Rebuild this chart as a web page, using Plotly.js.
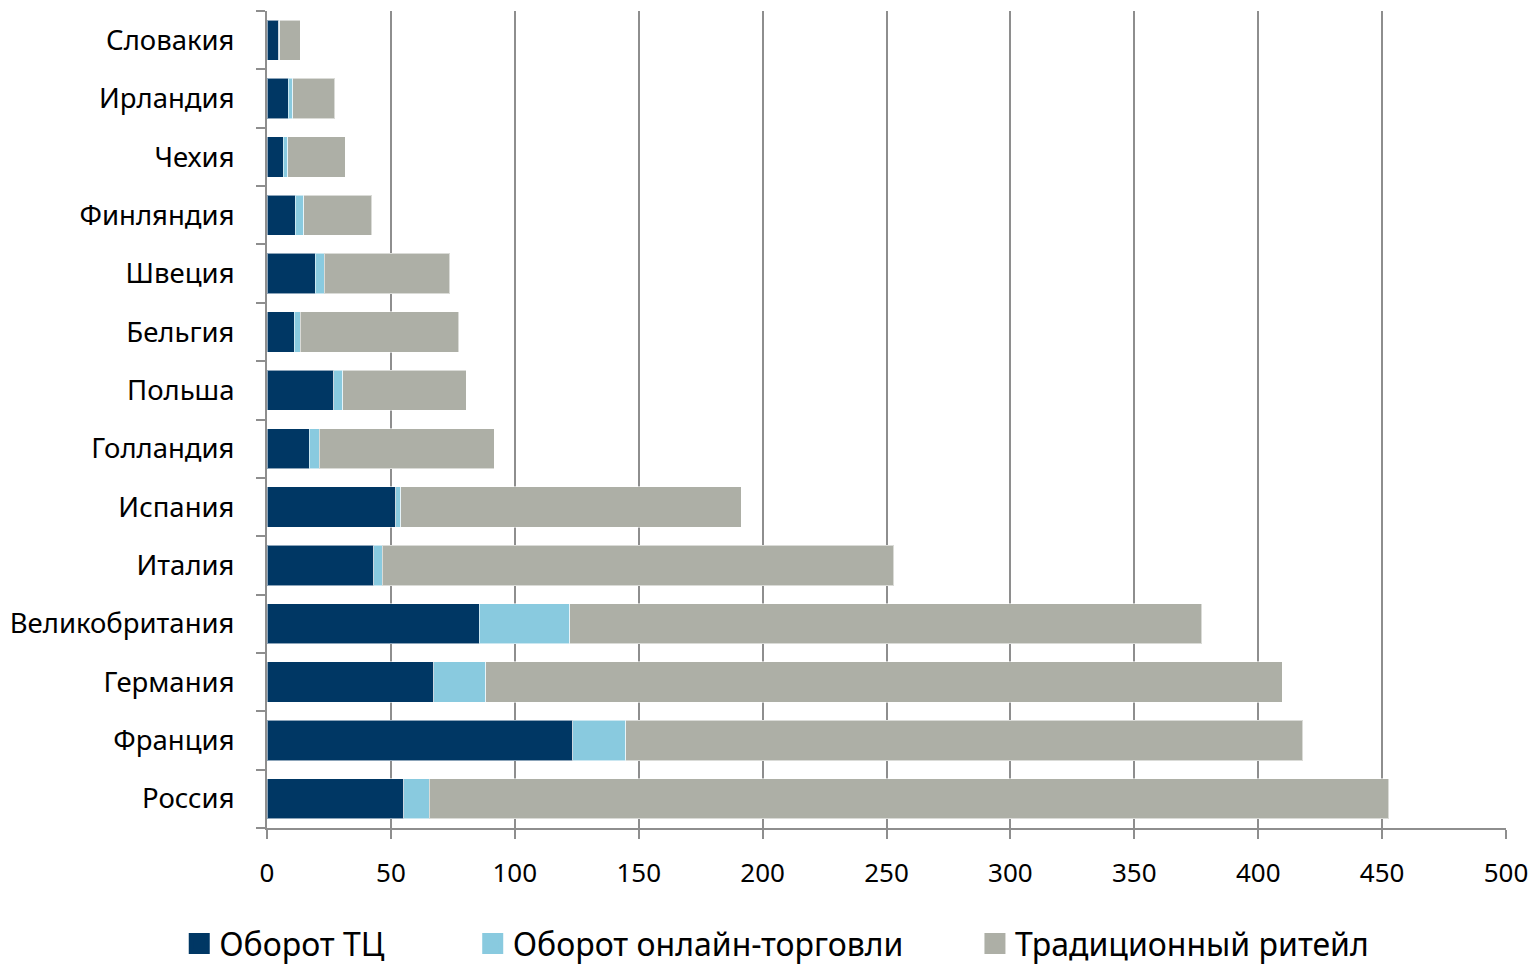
<!DOCTYPE html>
<html>
<head>
<meta charset="utf-8">
<script src="https://cdn.plot.ly/plotly-3.0.1.min.js"></script>
<style>
  html, body { margin: 0; padding: 0; background: #ffffff; }
  #chart { width: 1532px; height: 964px; }
</style>
</head>
<body>
<div id="chart"></div>
<script>
// Страны (снизу вверх)
const countries = ["Россия", "Франция", "Германия", "Великобритания", "Италия", "Испания",
  "Голландия", "Польша", "Бельгия", "Швеция", "Финляндия", "Чехия", "Ирландия", "Словакия"];

// Оборот торговых центров
const mallTurnover = [55.2, 123.4, 67.3, 85.6, 43.1, 52.0, 17.1, 27.0, 10.9, 19.4, 11.3, 6.5, 8.5, 4.8];
// Оборот онлайн-торговли
const onlineTurnover = [10.2, 21.4, 20.9, 36.6, 3.4, 1.9, 4.0, 3.6, 2.5, 3.7, 3.6, 1.8, 1.9, 0.4];
// Традиционный ритейл
const traditionalRetail = [387.3, 273.1, 321.6, 255.1, 206.5, 137.4, 70.6, 49.8, 64.0, 50.6, 27.4, 23.2, 17.0, 8.2];

const seriesNames = ["Оборот ТЦ", "Оборот онлайн-торговли", "Традиционный ритейл"];
const seriesColors = ["#003764", "#89cadf", "#adafa6"];
const seriesValues = [mallTurnover, onlineTurnover, traditionalRetail];

const xTicks = [0, 50, 100, 150, 200, 250, 300, 350, 400, 450, 500];

const FONT = "Noto Sans, Open Sans, sans-serif";
const NBSP = "\u00A0";
// extra spacing after each legend entry
const legendPad = [10, 8, 0];

const traces = [];
seriesValues.forEach((vals, i) => {
  traces.push({
    type: "bar",
    orientation: "h",
    y: countries,
    x: vals,
    name: seriesNames[i],
    showlegend: false,
    marker: { color: seriesColors[i], line: { color: "rgba(255,255,255,0.55)", width: 1 } },
    hoverinfo: "x+y+name"
  });
});
// Legend entries with larger square swatches
seriesValues.forEach((vals, i) => {
  traces.push({
    type: "scatter",
    mode: "markers",
    x: [null],
    y: [null],
    name: seriesNames[i] + NBSP.repeat(legendPad[i]),
    marker: { symbol: "square", size: 16, color: seriesColors[i], line: { color: seriesColors[i], width: 5 } },
    hoverinfo: "skip"
  });
});

const layout = {
  width: 1532,
  height: 964,
  margin: { l: 267, r: 26, t: 11, b: 136 },
  paper_bgcolor: "#ffffff",
  plot_bgcolor: "#ffffff",
  barmode: "stack",
  bargap: 0.31,
  font: { family: FONT, size: 26, color: "#000000" },
  showlegend: true,
  legend: {
    orientation: "h",
    xref: "container",
    yref: "container",
    x: 0.117,
    xanchor: "left",
    y: 0.021,
    yanchor: "middle",
    font: { family: FONT, size: 32, color: "#000000" },
    itemsizing: "trace",
    traceorder: "normal"
  },
  xaxis: {
    range: [0, 500],
    tickvals: xTicks,
    ticktext: xTicks.map(String),
    showgrid: true,
    gridcolor: "#8e8e8e",
    gridwidth: 2,
    zeroline: false,
    showline: true,
    linecolor: "#8e8e8e",
    linewidth: 2,
    ticks: "outside",
    ticklen: 9,
    tickwidth: 2,
    tickcolor: "#8e8e8e",
    ticklabelstandoff: 12,
    tickfont: { family: FONT, size: 26, color: "#000000" },
    fixedrange: true
  },
  yaxis: {
    type: "category",
    categoryorder: "array",
    categoryarray: countries,
    showgrid: false,
    zeroline: false,
    showline: true,
    linecolor: "#8e8e8e",
    linewidth: 2,
    ticks: "outside",
    tickson: "boundaries",
    ticklen: 9,
    tickwidth: 2,
    tickcolor: "#8e8e8e",
    ticklabelstandoff: 25,
    tickfont: { family: FONT, size: 27.5, color: "#000000" },
    fixedrange: true
  }
};

Plotly.newPlot("chart", traces, layout, { displayModeBar: false, staticPlot: true });
</script>
</body>
</html>
